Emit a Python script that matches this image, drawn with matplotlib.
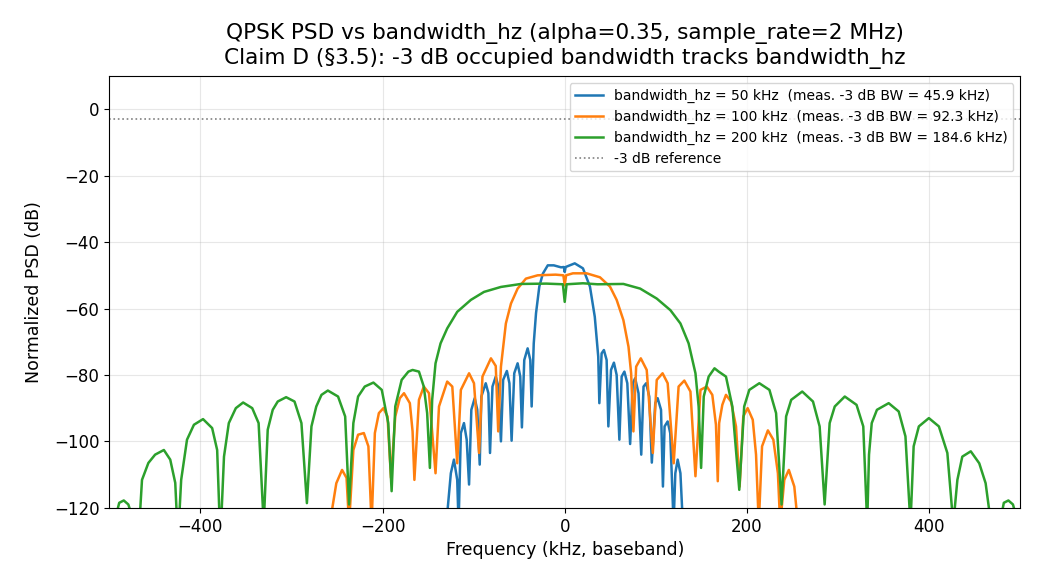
import numpy as np
import matplotlib
matplotlib.use("Agg")
import matplotlib.pyplot as plt

# PSD traces (kHz, dB); nulls below the axis drawn at -125
f_50k = [-130, -125, -121.6, -118, -116.5,
         -114, -110.6, -107.6, -105,
         -102.5, -98.8, -96, -93.3,
         -91.5, -86.7, -83.8, -82,
         -79.3, -75.7, -72.8, -70,
         -67.6, -63.5, -60.7, -58.3,
         -55.4, -51.7, -48.8, -47,
         -44.4, -40.7, -37.8, -36.3,
         -34, -31.5, -27.9, -24, -18.6, -12, -4, -1, 0, 1, 11, 20, 27.7, 33, 36.8, 38,
         40.5, 43, 46, 47.9,
         50.8, 54, 57, 60,
         62.5, 65.5, 68.7, 71.8,
         74.7, 77.3, 81, 84,
         86.5, 89.4, 92.8, 95.6,
         99.4, 102, 105.7, 107.8,
         109.6, 113, 115.8, 119.5,
         121.4, 124, 127, 129.7]
psd_50k = [-125, -109.6, -105.5, -111.6, -125,
           -97.5, -94.5, -99.5, -113,
           -90.5, -87, -90.5, -107,
           -86.5, -82.5, -85.5, -103.5,
           -83.5, -80.5, -83.5, -100,
           -81.5, -78.8, -82.5, -99.8,
           -79.5, -76.5, -80.5, -95.8,
           -75.5, -72, -75.5, -89.5,
           -70.5, -61.4, -53.4, -49.5, -47, -47, -47.6, -47.5, -49, -47.5, -46.4, -47.9, -53.4, -62.5, -74.5, -88.5,
           -73.5, -72.5, -75.5, -95.5,
           -78.5, -76.3, -80, -99.5,
           -80.5, -79, -82.5, -100.8,
           -82.5, -81, -85.5, -104,
           -83.5, -82.5, -86.5, -106.4,
           -88.5, -87, -90.5, -113.6,
           -95.5, -94, -97.5, -125,
           -109.6, -105.5, -109.6, -125]

f_100k = [-258, -250.7, -244.4, -239.5, -236.7,
          -232, -226.8, -220.5, -215.5, -212,
          -208.4, -204, -199, -194.5, -190.7,
          -186, -181, -176.4, -170, -167, -165,
          -160, -154.7, -149, -141.8,
          -138, -129, -123.4, -118,
          -114, -105, -99.6, -94,
          -90.3, -81, -75.7, -73,
          -70, -64.6, -59, -51.7, -42.6, -29.7, -10, -1.5, 0, 1.5, 9, 24, 38.7, 49.7, 57, 64.4, 70, 72.9, 75.4,
          78.4, 83.5, 90, 96.7,
          101, 107.4, 113, 119.6,
          125, 131.3, 138, 143.5,
          149, 156, 162, 166, 168,
          169.5, 173, 177, 182.5, 188, 192,
          196, 200.8, 206.4, 210, 213,
          216.6, 223, 229, 234, 236.5,
          241, 246, 252, 256]
psd_100k = [-125, -112.6, -108.6, -111, -125,
            -102.6, -98, -97.5, -101.5, -125,
            -97.5, -91.5, -90, -92.5, -111,
            -92.5, -87, -85.5, -88.5, -97, -111.6,
            -87.5, -83.5, -85.5, -109.6,
            -89.5, -82, -83.5, -106.6,
            -84.5, -79.5, -82.5, -103.5,
            -80.5, -75, -77.3, -97,
            -77.5, -64.5, -58.5, -54, -51, -50, -49.8, -50, -53, -50, -49.4, -49.4, -50.6, -53.4, -57.4, -63.5, -71.5, -79.5, -97,
            -77.5, -75, -78.5, -103.5,
            -81.5, -79.5, -82.5, -106.6,
            -83.5, -81.7, -85, -110.5,
            -84.5, -83.5, -86, -95, -112,
            -94.5, -89, -86, -88, -95.5, -113.6,
            -92.5, -90, -93.5, -104, -125,
            -101.5, -96.7, -99.5, -109.6, -125,
            -111.6, -108.6, -113.6, -125]

f_200k = [-494, -489, -484, -479, -472, -468,
          -464, -457, -449.6, -440, -433, -427.5, -424.5,
          -421, -414.6, -407, -397, -387, -381.5, -378,
          -374, -368.7, -361, -353, -343, -336, -330.4,
          -326, -320.5, -315, -305.8, -296.6, -289, -283,
          -278, -272.7, -267, -260, -248.8, -241, -236.7,
          -232, -226.8, -219.5, -210, -200.8, -193.7, -190,
          -186, -179, -171.6, -167, -160, -154.7, -151, -148,
          -145.5, -141.8, -136.3, -129, -118, -103, -88.6, -70, -48, -20, -2, 0, 2, 20, 36, 64.4, 82.8, 101, 116, 127, 136, 143.5, 147, 149.7,
          152.6, 158, 164.4, 169, 177, 184, 191.6,
          197, 202.6, 213.6, 224.7, 232, 238,
          243, 248.6, 260.7, 272.5, 279.8, 285.3,
          290.8, 296.4, 307.4, 320.3, 327.7, 332,
          334, 337, 342.7, 355.6, 366.6, 374, 379.5,
          383, 388.7, 399.7, 410.7, 420, 426.5,
          431, 436.4, 445.7, 455, 462, 468,
          478, 482, 487, 492, 497, 500]
psd_200k = [-124, -118.5, -117.8, -119, -125, -130,
            -111.6, -106.5, -104, -102.6, -105.5, -112.5, -130,
            -111.6, -99.5, -95, -93.3, -96, -102.6, -130,
            -104.6, -94.5, -90, -88.3, -90, -94.5, -125,
            -96.5, -90.5, -88, -86.7, -88, -94.5, -118.6,
            -95.5, -89.5, -86, -84.7, -86.5, -92.5, -119,
            -94.5, -86.5, -83.5, -82.3, -84.5, -94.5, -115,
            -89.5, -81.5, -79, -78.5, -79, -83.5, -91.5, -108,
            -87.5, -76.5, -70.5, -66, -61, -57.4, -55, -53.5, -52.6, -52.5, -52.7, -58, -52.7, -52.4, -52.7, -52.6, -54, -57, -60.5, -64.5, -70.5, -79.5, -89.5, -108,
            -86.5, -80.5, -78, -79, -80.5, -89.5, -114.6,
            -89.5, -84.5, -82.5, -84.5, -91.5, -119,
            -92.5, -87.5, -85, -88, -95.5, -119,
            -94.5, -89.5, -86.5, -89, -95.5, -125,
            -104, -94.5, -90.5, -88.5, -91, -98.5, -125,
            -101.5, -95.5, -93, -95.5, -103.5, -125,
            -111.6, -104.6, -103, -106.6, -112.6, -125,
            -124, -118.5, -117.8, -119, -124, -125]

labels = ["bandwidth_hz = 50 kHz  (meas. -3 dB BW = 45.9 kHz)",
          "bandwidth_hz = 100 kHz  (meas. -3 dB BW = 92.3 kHz)",
          "bandwidth_hz = 200 kHz  (meas. -3 dB BW = 184.6 kHz)"]
ref_db = -3

fig, ax = plt.subplots(figsize=(10.4, 5.85), dpi=100)
fig.subplots_adjust(left=0.105, right=0.981, top=0.870, bottom=0.132)

ax.plot(f_50k, psd_50k, color="tab:blue", lw=1.8, label=labels[0])
ax.plot(f_100k, psd_100k, color="tab:orange", lw=1.8, label=labels[1])
ax.plot(f_200k, psd_200k, color="tab:green", lw=1.8, label=labels[2])
ax.axhline(ref_db, color="gray", ls=":", lw=1.2, label="-3 dB reference")

ax.set_xlim(-500, 500)
ax.set_ylim(-120, 10)
ax.set_xlabel("Frequency (kHz, baseband)", fontsize=12.5)
ax.set_ylabel("Normalized PSD (dB)", fontsize=12.5, labelpad=8)
ax.set_title("QPSK PSD vs bandwidth_hz (alpha=0.35, sample_rate=2 MHz)\n"
             "Claim D (§3.5): -3 dB occupied bandwidth tracks bandwidth_hz",
             fontsize=15.6, pad=9)
ax.tick_params(labelsize=12)
ax.grid(True, alpha=0.3)
ax.legend(loc="upper right", fontsize=10)

fig.savefig("out.png", dpi=100)
